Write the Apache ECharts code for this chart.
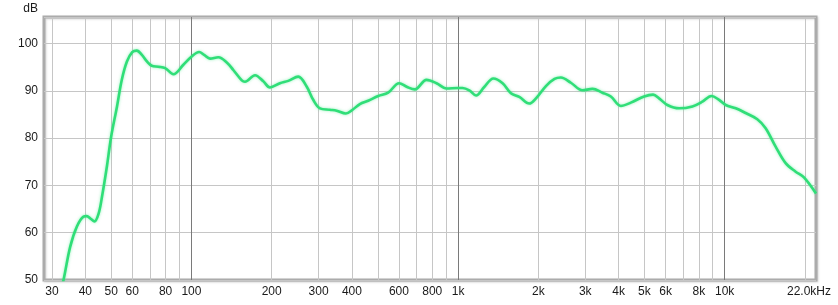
<!DOCTYPE html>
<html>
<head>
<meta charset="utf-8">
<script src="https://cdn.jsdelivr.net/npm/echarts@6/dist/echarts.min.js"></script>
<style>
html,body{margin:0;padding:0;background:#fff;}
#c{width:838px;height:305px;}
</style>
</head>
<body>
<div id="c"></div>
<script>
// Frequency response data (Hz, dB)
const freqs = [32.3, 33.2, 35.1, 37.2, 39.4, 40.5, 41.8, 43.3, 44.9, 46.2, 48.2, 50, 52.6, 54.8, 57.3, 60, 62.4, 65.2, 68.1, 71.0, 75.2, 79.7, 85.6, 93.3, 100, 106.9, 111.6, 117.5, 126.2, 135.7, 143.6, 154.5, 158.8, 173.2, 186.1, 197.1, 214.8, 230.8, 251.6, 270.5, 286.3, 303.4, 330.7, 350.4, 379.6, 402.3, 428.3, 460.3, 501.8, 546.8, 601.2, 644.2, 688.4, 761.6, 830.1, 904.6, 1000, 1040, 1102, 1168, 1254, 1356, 1469, 1579, 1697, 1850, 1960, 2136, 2300, 2430, 2650, 2928, 3192, 3479, 3741, 4078, 4446, 4986, 5389, 5675, 6096, 6745, 7567, 8249, 8913, 9524, 10090, 11000, 11985, 13251, 14241, 15524, 16925, 18450, 19825, 22000];
const levels = [47.5, 50.2, 57.0, 61.3, 63.4, 63.5, 63.0, 62.4, 64.1, 67.6, 74.0, 80.3, 86.7, 92.3, 96.2, 98.2, 98.5, 97.6, 96.2, 95.3, 95.1, 94.8, 93.5, 95.5, 97.2, 98.2, 97.6, 96.8, 97.1, 96.0, 94.4, 92.2, 91.9, 93.3, 92.0, 90.7, 91.6, 92.1, 93.0, 90.9, 88.1, 86.3, 86.0, 85.8, 85.2, 86.0, 87.2, 87.9, 88.9, 89.6, 91.6, 90.8, 90.3, 92.3, 91.6, 90.5, 90.6, 90.6, 90.1, 89.0, 90.8, 92.6, 91.6, 89.5, 88.7, 87.3, 88.4, 91.0, 92.5, 92.8, 91.7, 90.1, 90.4, 89.6, 88.8, 86.8, 87.5, 88.8, 89.2, 88.4, 87.0, 86.3, 86.7, 87.7, 88.9, 88.1, 87.0, 86.3, 85.3, 84.0, 82.1, 78.2, 74.7, 72.9, 71.7, 68.3];

// Grid lines and tick labels
const minorGrid = [30, 40, 50, 60, 70, 80, 90, 200, 300, 400, 500, 600, 700, 800, 900, 2000, 3000, 4000, 5000, 6000, 7000, 8000, 9000, 20000];
const majorGrid = [100, 1000, 10000];
const tickValues = [30, 40, 50, 60, 80, 100, 200, 300, 400, 600, 800, 1000, 2000, 3000, 4000, 5000, 6000, 8000, 10000];
const tickLabels = ['30', '40', '50', '60', '80', '100', '200', '300', '400', '600', '800', '1k', '2k', '3k', '4k', '5k', '6k', '8k', '10k'];
const endTickValue = 22000;
const endTickLabel = '22.0kHz';

const fmin = 28, fmax = 22000;
const ymin = 50, ymax = 105.6, yStep = 10;

const FONT = 'Liberation Sans, Arial, sans-serif';
const chart = echarts.init(document.getElementById('c'), null, {renderer: 'canvas'});

const lineData = freqs.map((f, i) => [f, levels[i]]);

const gridLines = [];
minorGrid.forEach(v => gridLines.push({xAxis: v, lineStyle: {color: '#c6c6c6', width: 1, type: 'solid'}, label: {show: false}}));
majorGrid.forEach(v => gridLines.push({xAxis: v, lineStyle: {color: '#7a7a7a', width: 1, type: 'solid'}, label: {show: false}}));

const labelStyle = {show: true, position: 'start', distance: 6, color: '#1a1a1a', opacity: 1, fontSize: 12, fontFamily: FONT};
const labelLines = tickValues.map((v, i) => ({
  xAxis: v,
  lineStyle: {color: 'rgba(0,0,0,0)', width: 0},
  label: Object.assign({}, labelStyle, {formatter: tickLabels[i]})
}));
labelLines.push({
  xAxis: endTickValue,
  lineStyle: {color: 'rgba(0,0,0,0)', width: 0},
  label: Object.assign({}, labelStyle, {formatter: endTickLabel, offset: [-7, 0]})
});

chart.setOption({
  animation: false,
  backgroundColor: '#ffffff',
  grid: {
    left: 44, top: 17, right: 22, bottom: 25,
    show: true,
    backgroundColor: '#ffffff',
    borderColor: '#ababab',
    borderWidth: 3,
    shadowColor: 'rgba(0,0,0,0.15)',
    shadowBlur: 2,
    shadowOffsetX: 1,
    shadowOffsetY: 1
  },
  xAxis: {
    type: 'log',
    logBase: 10,
    min: fmin,
    max: fmax,
    axisLine: {show: false},
    axisTick: {show: false},
    axisLabel: {show: false},
    splitLine: {show: false}
  },
  yAxis: {
    type: 'value',
    min: ymin,
    max: ymax,
    interval: yStep,
    name: 'dB',
    nameLocation: 'end',
    nameGap: 2,
    nameTextStyle: {color: '#1a1a1a', fontSize: 12, fontFamily: FONT, align: 'right', padding: [0, 6, 0, 0]},
    axisLine: {show: false},
    axisTick: {show: false},
    axisLabel: {color: '#1a1a1a', fontSize: 12, fontFamily: FONT, margin: 6, showMaxLabel: false},
    splitLine: {show: true, lineStyle: {color: '#c6c6c6', width: 1}}
  },
  series: [
    {
      type: 'line',
      data: [],
      silent: true,
      clip: false,
      markLine: {silent: true, symbol: 'none', animation: false, data: gridLines.concat(labelLines)}
    },
    {
      type: 'line',
      data: lineData,
      smooth: 0.35,
      showSymbol: false,
      clip: true,
      silent: true,
      lineStyle: {color: '#30de78', width: 2.6, shadowColor: 'rgba(60,230,130,0.55)', shadowBlur: 3},
      z: 5
    }
  ]
});
</script>
</body>
</html>
